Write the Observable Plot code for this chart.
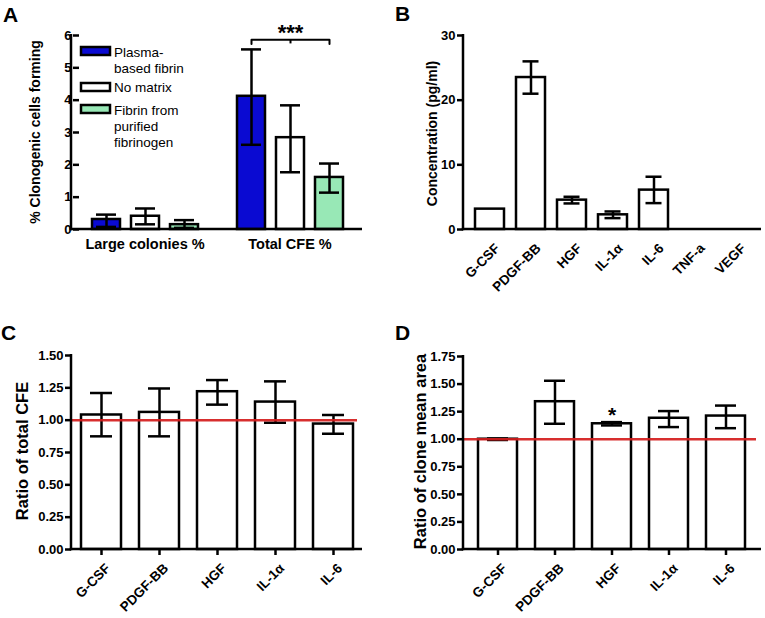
<!DOCTYPE html>
<html><head><meta charset="utf-8">
<script src="https://cdn.jsdelivr.net/npm/d3@7"></script>
<script src="https://cdn.jsdelivr.net/npm/@observablehq/plot@0.6"></script>
<style>
body{margin:0;background:#fff;}
#fig{position:relative;width:765px;height:618px;background:#fff;font-family:"Liberation Sans",Arial,sans-serif;overflow:hidden}
.panel{position:absolute}
.letter{position:absolute;font-weight:bold;font-size:21px;line-height:1;color:#000}
</style></head><body><div id="fig"></div>
<script>
// ---------- DATA ----------
// Panel A
const groupsA = ["Large colonies %", "Total CFE %"];
const seriesA = ["Plasma-based fibrin", "No matrix", "Fibrin from purified fibrinogen"];
const legendLinesA = [["Plasma-", "based fibrin"], ["No matrix"], ["Fibrin from", "purified", "fibrinogen"]];
const colorsA = ["#0a0ad2", "#ffffff", "#98e8b6"];
const meanLarge = [0.31, 0.41, 0.15];
const lowLarge = [0.08, 0.16, 0.05];
const highLarge = [0.46, 0.65, 0.29];
const meanTotal = [4.12, 2.84, 1.61];
const lowTotal = [2.62, 1.77, 1.14];
const highTotal = [5.57, 3.84, 2.04];
const ticksA = [0, 1, 2, 3, 4, 5, 6];
const bracketA = {low: 5.74, high: 5.87, label: "***", labelY: 6.08};

// Panel B
const catsB = ["G-CSF", "PDGF-BB", "HGF", "IL-1\u03b1", "IL-6", "TNF-a", "VEGF"];
const meanB = [3.15, 23.5, 4.54, 2.27, 6.09, 0, 0];
const lowB = [null, 21.0, 4.03, 1.76, 4.08, null, null];
const highB = [null, 26.0, 5.06, 2.79, 8.16, null, null];
const ticksB = [0, 10, 20, 30];

// Panels C and D
const catsCD = ["G-CSF", "PDGF-BB", "HGF", "IL-1\u03b1", "IL-6"];
const meanC = [1.04, 1.06, 1.22, 1.14, 0.97];
const lowC = [0.875, 0.875, 1.12, 0.98, 0.895];
const highC = [1.21, 1.245, 1.31, 1.30, 1.04];
const ticksC = [0, 0.25, 0.5, 0.75, 1.0, 1.25, 1.5];

const meanD = [1.00, 1.34, 1.14, 1.19, 1.21];
const lowD = [0.993, 1.14, 1.125, 1.11, 1.10];
const highD = [1.007, 1.53, 1.155, 1.255, 1.305];
const ticksD = [0, 0.25, 0.5, 0.75, 1.0, 1.25, 1.5, 1.75];
const starD = [{cat: "HGF", y: 1.22, label: "*"}];
const referenceLine = [1];

// ---------- HELPERS ----------
const FONT = "'Liberation Sans', Arial, sans-serif";
const RED = "#d41c1c";
const fig = document.getElementById("fig");

function place(node, left, top) {
  node.classList.add("panel");
  node.style.left = left + "px";
  node.style.top = top + "px";
  fig.appendChild(node);
}
function axisLines(svg, m, w, h) {
  const s = d3.select(svg);
  s.append("line").attr("x1", m.l).attr("x2", m.l).attr("y1", m.t - 1).attr("y2", h - m.b + 1.25)
    .attr("stroke", "black").attr("stroke-width", 2.5);
  s.append("line").attr("x1", m.l - 1.25).attr("x2", w - m.r).attr("y1", h - m.b).attr("y2", h - m.b)
    .attr("stroke", "black").attr("stroke-width", 2.5);
}
function yLabel(svg, text, x, y, fs) {
  d3.select(svg).append("text").attr("transform", `translate(${x},${y}) rotate(-90)`)
    .attr("text-anchor", "middle").attr("font-size", fs).attr("font-weight", "bold")
    .attr("font-family", FONT).attr("fill", "black").text(text);
}
// x tick labels, -45 degrees, end-anchored at each band centre of the plot's own x scale
function xLabels(svg, cats, axisY, dxOff, dyOff) {
  const sx = svg.scale("x");
  const half = (sx.bandwidth || 0) / 2;
  const s = d3.select(svg);
  cats.forEach(c => {
    const x = sx.apply(c) + half;
    s.append("g").attr("transform", `translate(${x + dxOff},${axisY + dyOff})`)
      .append("text").attr("transform", "rotate(-45)")
      .attr("text-anchor", "end").attr("dy", "0.32em")
      .attr("font-size", 13.5).attr("font-weight", "bold").attr("font-family", FONT)
      .attr("fill", "black").text(c);
  });
}
function letter(t, left, top) {
  const d = document.createElement("div");
  d.className = "letter"; d.textContent = t;
  d.style.left = left + "px"; d.style.top = top + "px";
  fig.appendChild(d);
}
const baseStyle = {fontFamily: FONT, fontSize: "13px", fontWeight: "bold", background: "transparent", overflow: "visible", color: "black"};

// ---------- PANEL A ----------
const dataA = [];
groupsA.forEach((g, gi) => seriesA.forEach((s, si) => {
  const src = gi === 0 ? [meanLarge, lowLarge, highLarge] : [meanTotal, lowTotal, highTotal];
  dataA.push({group: g, series: s, mean: src[0][si], lo: src[1][si], hi: src[2][si]});
}));
const bracketPts = [
  {group: groupsA[1], series: seriesA[0], y: bracketA.low},
  {group: groupsA[1], series: seriesA[0], y: bracketA.high},
  {group: groupsA[1], series: seriesA[2], y: bracketA.high},
  {group: groupsA[1], series: seriesA[2], y: bracketA.low}
];
const bracketMid = [{group: groupsA[1], series: seriesA[1], y1: bracketA.low, y2: bracketA.high, label: bracketA.label, ly: bracketA.labelY}];
const mA = {l: 71, t: 35, r: 18, b: 61}, wA = 380, hA = 290;
const plotA = Plot.plot({
  width: wA, height: hA, marginLeft: mA.l, marginTop: mA.t, marginRight: mA.r, marginBottom: mA.b,
  style: baseStyle,
  fx: {domain: groupsA, paddingInner: 0.1, paddingOuter: 0.05, label: null},
  x: {domain: seriesA, paddingInner: 0.29, paddingOuter: 0.31, axis: null},
  y: {domain: [0, 6]},
  color: {domain: seriesA, range: colorsA},
  marks: [
    Plot.barY(dataA, {fx: "group", x: "series", y: "mean", fill: "series", stroke: "black", strokeWidth: 2.5}),
    Plot.ruleX(dataA, {fx: "group", x: "series", y1: "lo", y2: "hi", stroke: "black", strokeWidth: 2.5}),
    Plot.tickY(dataA, {fx: "group", x: "series", y: "lo", stroke: "black", strokeWidth: 2.5, insetLeft: 4, insetRight: 4}),
    Plot.tickY(dataA, {fx: "group", x: "series", y: "hi", stroke: "black", strokeWidth: 2.5, insetLeft: 4, insetRight: 4}),
    Plot.line(bracketPts, {fx: "group", x: "series", y: "y", stroke: "black", strokeWidth: 2}),
    Plot.ruleX(bracketMid, {fx: "group", x: "series", y1: "y1", y2: "y2", stroke: "black", strokeWidth: 2}),
    Plot.text(bracketMid, {fx: "group", x: "series", y: "ly", text: "label", fontSize: 22, fontWeight: "bold"}),
    Plot.axisY({ticks: ticksA, tickSize: 6, tickPadding: 2, label: null, strokeWidth: 2.5, tickFormat: d3.format("d")}),
    Plot.axisFx({anchor: "bottom", tickSize: 0, tickPadding: 9, label: null, fontSize: 14.5})
  ]
});
axisLines(plotA, mA, wA, hA);
yLabel(plotA, "% Clonogenic cells forming", 40, 132, 14);
{
  const s = d3.select(plotA);
  const sw = [47, 83, 105];
  const lines = [[57, 73], [92], [115, 131, 147]];
  seriesA.forEach((ser, i) => {
    s.append("rect").attr("x", 81).attr("y", sw[i]).attr("width", 29).attr("height", 8)
      .attr("fill", colorsA[i]).attr("stroke", "black").attr("stroke-width", 2.5);
    legendLinesA[i].forEach((t, j) => {
      s.append("text").attr("x", 114).attr("y", lines[i][j]).attr("font-size", 13.5)
        .attr("font-weight", "normal").attr("text-anchor", "start")
        .attr("font-family", FONT).attr("fill", "black").text(t);
    });
  });
}
place(plotA, 0, 0);

// ---------- PANEL B ----------
const dataB = catsB.map((c, i) => ({cat: c, mean: meanB[i], lo: lowB[i], hi: highB[i]}));
const errB = dataB.filter(d => d.lo != null);
const mB = {l: 83, t: 35, r: 4, b: 71}, wB = 385, hB = 300;
const plotB = Plot.plot({
  width: wB, height: hB, marginLeft: mB.l, marginTop: mB.t, marginRight: mB.r, marginBottom: mB.b,
  style: baseStyle,
  x: {domain: catsB, paddingInner: 0.3, paddingOuter: 0.26, axis: null},
  y: {domain: [0, 30]},
  marks: [
    Plot.barY(dataB, {x: "cat", y: "mean", fill: "white", stroke: "black", strokeWidth: 2.5}),
    Plot.ruleX(errB, {x: "cat", y1: "lo", y2: "hi", stroke: "black", strokeWidth: 2.5}),
    Plot.tickY(errB, {x: "cat", y: "lo", stroke: "black", strokeWidth: 2.5, insetLeft: 6.5, insetRight: 6.5}),
    Plot.tickY(errB, {x: "cat", y: "hi", stroke: "black", strokeWidth: 2.5, insetLeft: 6.5, insetRight: 6.5}),
    Plot.axisY({ticks: ticksB, tickSize: 6, tickPadding: 2, label: null, strokeWidth: 2.5, tickFormat: d3.format("d")})
  ]
});
axisLines(plotB, mB, wB, hB);
xLabels(plotB, catsB, hB - mB.b, 8, 17);
yLabel(plotB, "Concentration (pg/ml)", 56.5, 133.5, 14);
place(plotB, 380, 0);

// ---------- PANELS C / D ----------
function ratioPanel(means, lows, highs, ticks, ymax, m, w, h, padOuter, extra) {
  const data = catsCD.map((c, i) => ({cat: c, mean: means[i], lo: lows[i], hi: highs[i]}));
  return Plot.plot({
    width: w, height: h, marginLeft: m.l, marginTop: m.t, marginRight: m.r, marginBottom: m.b,
    style: baseStyle,
    x: {domain: catsCD, paddingInner: 0.313, paddingOuter: padOuter, label: null},
    y: {domain: [0, ymax]},
    marks: [
      Plot.barY(data, {x: "cat", y: "mean", fill: "white", stroke: "black", strokeWidth: 2.5}),
      Plot.ruleX(data, {x: "cat", y1: "lo", y2: "hi", stroke: "black", strokeWidth: 2.5}),
      Plot.tickY(data, {x: "cat", y: "lo", stroke: "black", strokeWidth: 2.5, insetLeft: 9, insetRight: 9}),
      Plot.tickY(data, {x: "cat", y: "hi", stroke: "black", strokeWidth: 2.5, insetLeft: 9, insetRight: 9}),
      ...extra,
      Plot.ruleY(referenceLine, {stroke: RED, strokeWidth: 2.5, strokeOpacity: 0.92, insetRight: 5}),
      Plot.axisY({ticks, tickSize: 6, tickPadding: 2, label: null, strokeWidth: 2.5, tickFormat: d3.format(".2f")}),
      Plot.axisX({tickSize: 6, tickFormat: () => "", label: null, strokeWidth: 2.5})
    ]
  });
}
const mC = {l: 71, t: 55, r: 18, b: 69}, wC = 380, hC = 318;
const plotC = ratioPanel(meanC, lowC, highC, ticksC, 1.5, mC, wC, hC, 0.155, []);
axisLines(plotC, mC, wC, hC);
xLabels(plotC, catsCD, hC - mC.b, 7, 17);
yLabel(plotC, "Ratio of total CFE", 27.5, 151, 16.5);
place(plotC, 0, 300);

const mD = {l: 83, t: 56, r: 4, b: 69}, wD = 385, hD = 318;
const plotD = ratioPanel(meanD, lowD, highD, ticksD, 1.75, mD, wD, hD, 0.24,
  [Plot.text(starD, {x: "cat", y: "y", text: "label", fontSize: 21, fontWeight: "bold"})]);
axisLines(plotD, mD, wD, hD);
xLabels(plotD, catsCD, hD - mD.b, 7, 17);
yLabel(plotD, "Ratio of clone mean area", 45.5, 151.5, 16.5);
place(plotD, 380, 300);

// ---------- LETTERS ----------
letter("A", 3, 4);
letter("B", 395, 3);
letter("C", 1, 322);
letter("D", 395, 322);
</script>
</body></html>
